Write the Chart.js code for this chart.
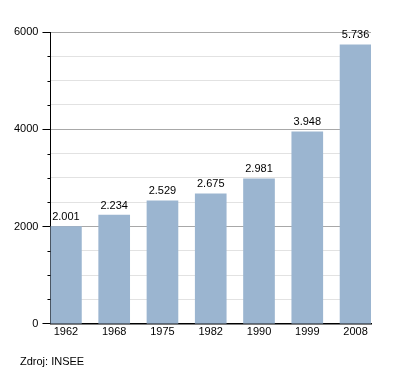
<!DOCTYPE html>
<html>
<head>
<meta charset="utf-8">
<script src="https://cdn.jsdelivr.net/npm/chart.js@4.4.0/dist/chart.umd.min.js"></script>
<style>
  body { margin: 0; background: #fff; }
  #wrap { position: relative; width: 400px; height: 373px; }
  #source { position: absolute; left: 20px; top: 355px; font: 11px "Liberation Sans", Arial, sans-serif; color: #000; }
</style>
</head>
<body>
<div id="wrap">
  <canvas id="chart" width="400" height="373"></canvas>
  <div id="source">Zdroj: INSEE</div>
</div>
<script>
var years = ["1962", "1968", "1975", "1982", "1990", "1999", "2008"];
var population = [2001, 2234, 2529, 2675, 2981, 3948, 5736];
var yTicks = [0, 2000, 4000, 6000];

var points = population.map(function (v, i) { return { x: i, y: v }; });

function fmt(v) {
  return String(v).replace(/\B(?=(\d{3})+(?!\d))/g, ".");
}

var valueLabels = {
  id: "valueLabels",
  afterDatasetsDraw: function (chart) {
    var ctx = chart.ctx;
    var meta = chart.getDatasetMeta(0);
    ctx.save();
    ctx.font = "11px 'Liberation Sans', Arial, sans-serif";
    ctx.fillStyle = "#000";
    ctx.textAlign = "center";
    ctx.textBaseline = "bottom";
    meta.data.forEach(function (bar, i) {
      ctx.fillText(fmt(population[i]), bar.x, bar.y - 4);
    });
    ctx.restore();
  }
};

// short tick marks for the unlabeled 500 steps
var minorTicks = {
  id: "minorTicks",
  afterDraw: function (chart) {
    var y = chart.scales.y;
    var ctx = chart.ctx;
    ctx.save();
    ctx.strokeStyle = "#000";
    ctx.lineWidth = 1;
    for (var v = 500; v < 6000; v += 500) {
      if (v % 2000 === 0) continue;
      var py = Math.round(y.getPixelForValue(v)) + 0.5;
      ctx.beginPath();
      ctx.moveTo(chart.chartArea.left - 3, py);
      ctx.lineTo(chart.chartArea.left, py);
      ctx.stroke();
    }
    ctx.restore();
  }
};

new Chart(document.getElementById("chart"), {
  type: "bar",
  data: {
    datasets: [
      {
        data: points,
        backgroundColor: "#9bb5d0",
        barThickness: 31,
      },
    ],
  },
  options: {
    responsive: false,
    animation: false,
    layout: { padding: { top: 32, right: 29, left: 10, bottom: 32 } },
    plugins: {
      legend: { display: false },
      tooltip: { enabled: false },
    },
    scales: {
      x: {
        type: "linear",
        offset: false,
        min: -0.32,
        max: 6.32,
        grid: { display: false, drawTicks: false },
        border: { color: "#000", width: 1.5 },
        ticks: {
          stepSize: 1,
          includeBounds: false,
          autoSkip: false,
          maxRotation: 0,
          padding: 2,
          color: "#000",
          font: { family: "'Liberation Sans', Arial, sans-serif", size: 11 },
          callback: function (v) { return Number.isInteger(v) ? years[v] : ""; },
        },
      },
      y: {
        min: 0,
        max: 6000,
        border: { color: "#000", width: 1 },
        grid: {
          color: function (c) { return c.tick && c.tick.value % 2000 === 0 ? "#a8a8a8" : "#e2e2e2"; },
          tickColor: function (c) { return c.tick && c.tick.value % 2000 === 0 ? "#000" : "rgba(0,0,0,0)"; },
          tickLength: 8,
        },
        ticks: {
          stepSize: 500,
          padding: 4,
          color: "#000",
          font: { family: "'Liberation Sans', Arial, sans-serif", size: 11 },
          callback: function (v) { return yTicks.indexOf(v) >= 0 ? String(v) : ""; },
        },
      },
    },
  },
  plugins: [valueLabels, minorTicks],
});
</script>
</body>
</html>
